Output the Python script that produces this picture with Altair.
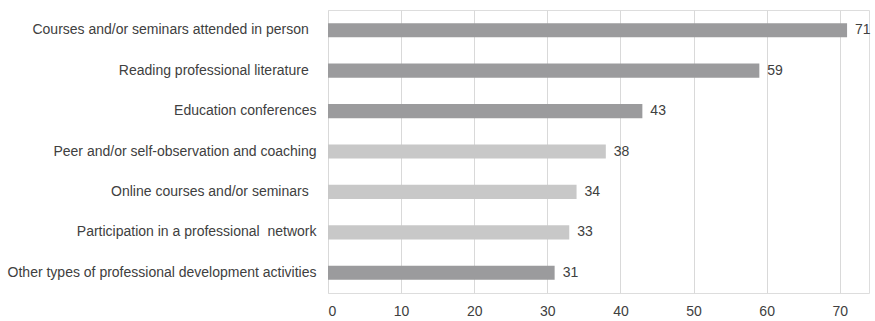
import altair as alt
import pandas as pd

GAP = "\u00a0\u00a0\u200b"  # trailing gap kept visible (trim-proof)
categories = [
    "Courses and/or seminars attended in person" + GAP,
    "Reading professional literature" + GAP,
    "Education conferences",
    "Peer and/or self-observation and coaching",
    "Online courses and/or seminars" + GAP,
    "Participation in a professional\u00a0 network",
    "Other types of professional development activities",
]
values = [71, 59, 43, 38, 34, 33, 31]
groups = ["dark", "dark", "dark", "light", "light", "light", "dark"]

df = pd.DataFrame({"category": categories, "value": values, "group": groups})

y_enc = alt.Y(
    "category:N",
    sort=categories,
    scale=alt.Scale(paddingInner=0.65, paddingOuter=0.325),
    axis=alt.Axis(
        title=None, domain=False, ticks=False, grid=False,
        labelFont="Liberation Sans", labelFontSize=14, labelColor="#404040",
        labelPadding=12, labelLimit=400,
    ),
)
x_enc = alt.X(
    "value:Q",
    scale=alt.Scale(domain=[0, 74], nice=False),
    axis=alt.Axis(
        title=None, values=[0, 10, 20, 30, 40, 50, 60, 70], domain=False, ticks=False,
        grid=True, gridColor="#d9d9d9", gridWidth=1,
        labelFont="Liberation Sans", labelFontSize=14, labelColor="#404040",
        labelPadding=11,
    ),
)

bars = alt.Chart(df).mark_bar().encode(
    x=x_enc,
    y=y_enc,
    color=alt.Color(
        "group:N",
        scale=alt.Scale(domain=["dark", "light"], range=["#9b9b9d", "#c8c8c8"]),
        legend=None,
    ),
)

text = alt.Chart(df).mark_text(
    align="left", baseline="middle", dx=8, font="Liberation Sans", fontSize=14, color="#404040"
).encode(
    x="value:Q",
    y=alt.Y("category:N", sort=categories),
    text="value:Q",
)

chart = (
    (bars + text)
    .properties(
        width=541,
        height=283,
        autosize=alt.AutoSizeParams(type="none"),
        padding={"left": 328, "top": 10, "right": 6, "bottom": 28},
    )
    .configure_view(stroke=None)
    .configure(background="white")
)

chart.save("out.html", embed_options={"renderer": "svg", "actions": False})
